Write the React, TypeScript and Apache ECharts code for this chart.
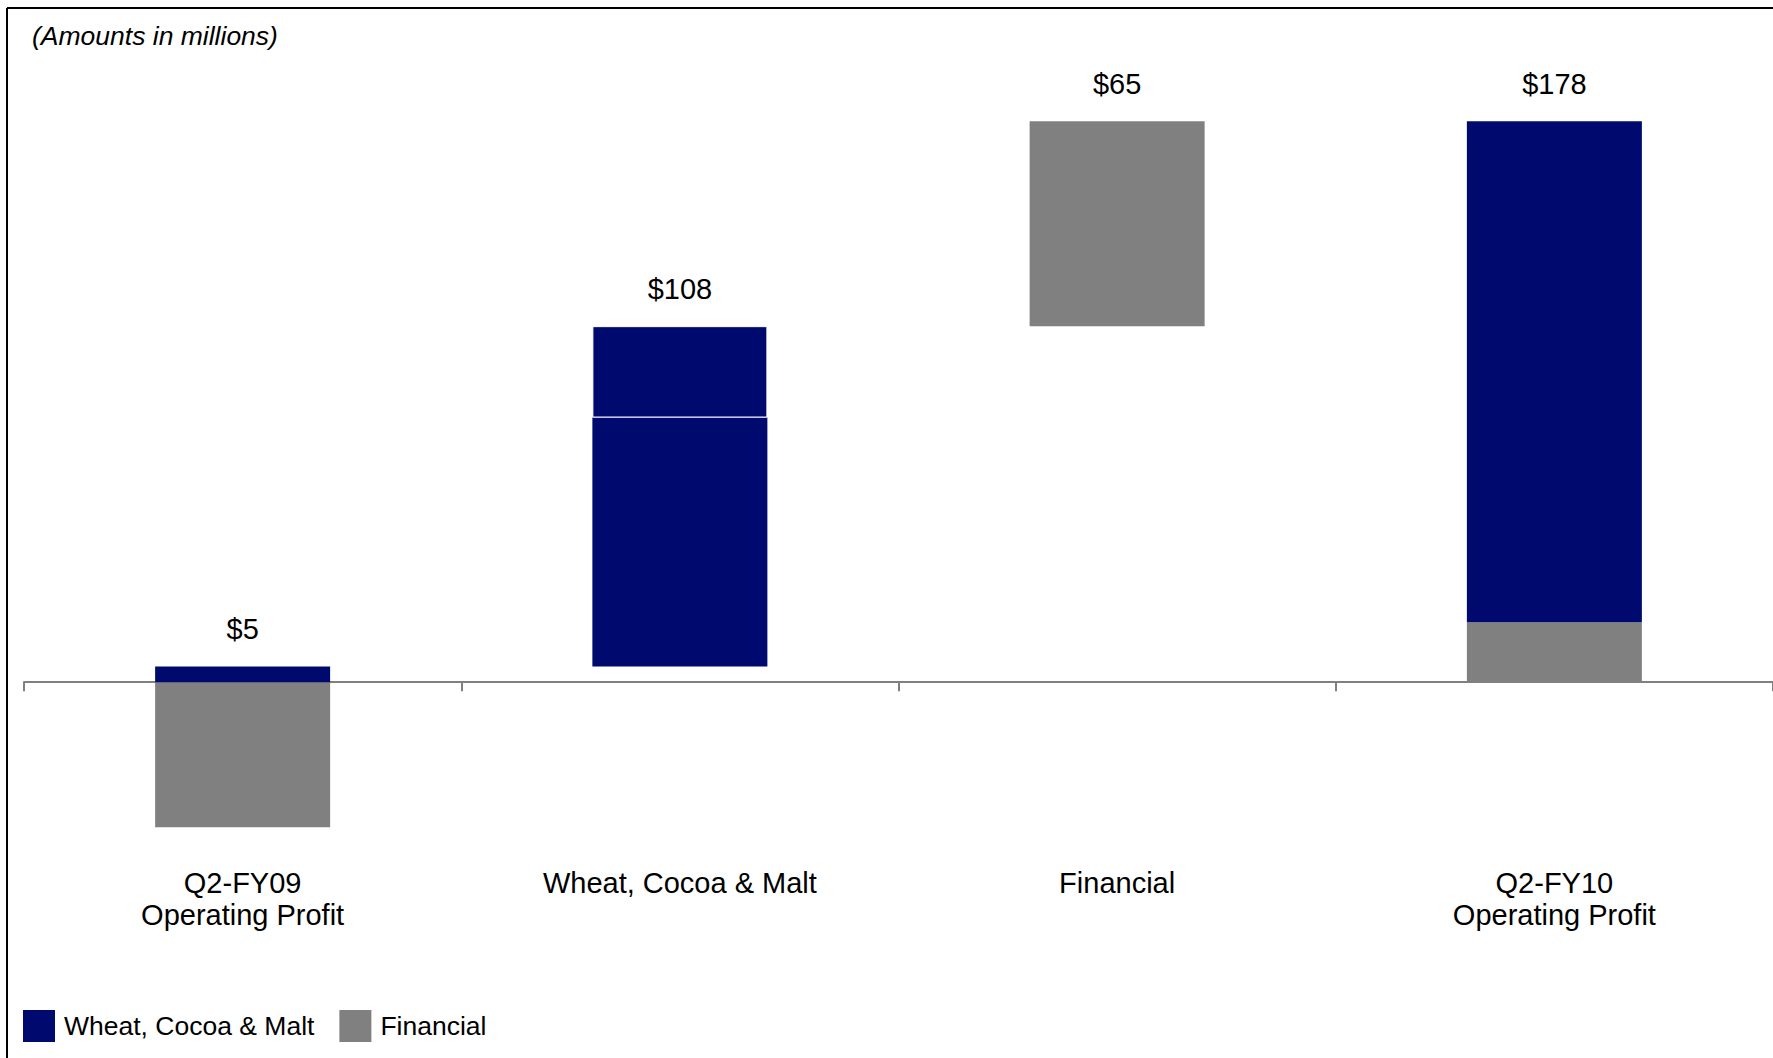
import React, { useEffect, useRef } from "react";
import * as echarts from "echarts";

const categories = [
  "Q2-FY09\nOperating Profit",
  "Wheat, Cocoa & Malt",
  "Financial",
  "Q2-FY10\nOperating Profit",
];
const totals = [5, 108, 65, 178];
const baseValues = [0, 5, 113, 0];
const finLower: (number | string)[] = [-46, "-", "-", 19];
const wcmLower: (number | string)[] = [5, 79, "-", 159];
const wcmUpper: (number | string)[] = ["-", 29, "-", "-"];
const finUpper: (number | string)[] = ["-", "-", 65, "-"];

const BLUE = "#000A6E";
const GRAY = "#808080";
const FONT = "'Liberation Sans', Arial, sans-serif";

export default function App() {
  const ref = useRef<HTMLDivElement>(null);

  useEffect(() => {
    if (!ref.current) return;
    const chart = echarts.init(ref.current, undefined, { renderer: "svg" });

    const stackOrder = [
      { key: "finLower", name: "Financial", data: finLower, color: GRAY },
      { key: "wcmLower", name: "Wheat, Cocoa & Malt", data: wcmLower, color: BLUE },
      { key: "wcmUpper", name: "Wheat, Cocoa & Malt", data: wcmUpper, color: BLUE },
      { key: "finUpper", name: "Financial", data: finUpper, color: GRAY },
    ];
    // the topmost positive segment of each bar carries its total label
    const labelOwner = categories.map((_, i) => {
      let owner = -1;
      stackOrder.forEach((s, si) => {
        const v = s.data[i];
        if (typeof v === "number" && v > 0) owner = si;
      });
      return owner;
    });

    const series: any[] = [
      {
        name: "base",
        type: "bar",
        stack: "w",
        barWidth: 175,
        data: baseValues,
        itemStyle: { color: "transparent" },
        silent: true,
      },
      ...stackOrder.map((s, si) => ({
        name: s.name,
        type: "bar",
        stack: "w",
        barWidth: 175,
        clip: false,
        itemStyle:
          s.key === "wcmUpper"
            ? { color: s.color, borderColor: "#ffffff", borderWidth: 1 }
            : { color: s.color },
        data: s.data.map((v, i) =>
          labelOwner[i] === si
            ? {
                value: v,
                label: {
                  show: true,
                  position: "top",
                  distance: 23,
                  formatter: () => "$" + totals[i],
                  fontSize: 29,
                  fontFamily: FONT,
                  color: "#000",
                },
              }
            : v
        ),
      })),
    ];

    chart.setOption({
      animation: false,
      backgroundColor: "#ffffff",
      title: {
        text: "(Amounts in millions)",
        left: 32,
        top: 22,
        padding: 0,
        textStyle: {
          fontSize: 26.5,
          fontStyle: "italic",
          fontWeight: "normal",
          fontFamily: FONT,
          color: "#000",
        },
      },
      legend: {
        data: ["Wheat, Cocoa & Malt", "Financial"],
        left: 23,
        top: 1010,
        padding: 0,
        itemWidth: 32,
        itemHeight: 32,
        itemGap: 25,
        icon: "rect",
        selectedMode: false,
        textStyle: {
          fontSize: 26.5,
          fontFamily: FONT,
          color: "#000",
          padding: [0, 0, 0, 4],
        },
      },
      grid: {
        left: 24,
        right: 0,
        top: 52,
        bottom: 193,
        containLabel: false,
        outerBoundsMode: "none",
      },
      xAxis: [
        {
          type: "category",
          data: categories,
          axisLine: { onZero: true, lineStyle: { color: GRAY, width: 2 } },
          axisTick: { show: true, length: 9, lineStyle: { color: GRAY, width: 2 } },
          axisLabel: { show: false },
          splitLine: { show: false },
        },
        {
          type: "category",
          data: categories,
          position: "bottom",
          axisLine: { show: false, onZero: false },
          axisTick: { show: false },
          axisLabel: {
            interval: 0,
            margin: 2,
            fontSize: 29,
            lineHeight: 32,
            fontFamily: FONT,
            color: "#000",
          },
          splitLine: { show: false },
        },
      ],
      yAxis: {
        type: "value",
        min: -58,
        max: 200,
        show: false,
        splitLine: { show: false },
      },
      graphic: [
        {
          type: "line",
          shape: { x1: 7, y1: 8, x2: 1773, y2: 8 },
          style: { stroke: "#000", lineWidth: 2 },
        },
        {
          type: "line",
          shape: { x1: 7, y1: 8, x2: 7, y2: 1058 },
          style: { stroke: "#000", lineWidth: 2 },
        },
      ],
      series,
    });

    return () => chart.dispose();
  }, []);

  return (
    <div
      ref={ref}
      style={{
        position: "fixed",
        left: 0,
        top: 0,
        width: 1773,
        height: 1058,
        background: "#fff",
      }}
    />
  );
}
